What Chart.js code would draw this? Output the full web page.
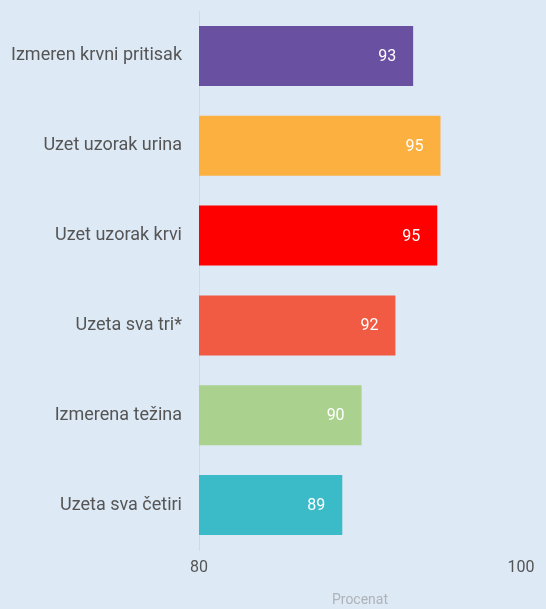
<!DOCTYPE html>
<html>
<head>
<meta charset="utf-8">
<script src="https://cdn.jsdelivr.net/npm/chart.js@4"></script>
<style>
html,body{margin:0;padding:0;background:#dde9f5;}
#wrap{width:546px;height:609px;}
</style>
</head>
<body>
<div id="wrap"><canvas id="c" width="546" height="609"></canvas></div>
<script>
const categories = ["Izmeren krvni pritisak","Uzet uzorak urina","Uzet uzorak krvi","Uzeta sva tri*","Izmerena težina","Uzeta sva četiri"];
const values = [93.3, 95.0, 94.8, 92.2, 90.1, 88.9];
const barColors = ["#6950a1","#fbb040","#ff0000","#f15b43","#abd18e","#3bbbc8"];
const xTicks = [80, 100];
const axisTitle = "Procenat";

const FONT = "Roboto, 'Liberation Sans', sans-serif";

const labelPlugin = {
  id: 'barLabels',
  afterDatasetsDraw(chart) {
    const ctx = chart.ctx;
    const meta = chart.getDatasetMeta(0);
    ctx.save();
    ctx.fillStyle = '#ffffff';
    ctx.font = '16px ' + FONT;
    ctx.textAlign = 'right';
    ctx.textBaseline = 'middle';
    meta.data.forEach((bar, i) => {
      ctx.fillText(String(Math.round(values[i])), bar.x - 17, bar.y + 1);
    });
    ctx.restore();
  }
};

new Chart(document.getElementById('c'), {
  type: 'bar',
  data: {
    labels: categories,
    datasets: [{
      data: values,
      backgroundColor: barColors,
      borderWidth: 0,
      categoryPercentage: 1,
      barPercentage: 0.667
    }]
  },
  options: {
    indexAxis: 'y',
    responsive: false,
    animation: false,
    devicePixelRatio: 1,
    layout: { padding: { top: 11, right: 25, bottom: 0, left: 0 } },
    plugins: { legend: { display: false }, tooltip: { enabled: false } },
    scales: {
      x: {
        min: 80, max: 100,
        afterBuildTicks: (s) => { s.ticks = xTicks.map(v => ({ value: v })); },
        afterFit: (s) => { s.height = 59; s.paddingLeft = 0; s.paddingRight = 0; },
        grid: { display: false, drawTicks: false },
        border: { display: false },
        ticks: { color: '#555555', font: { family: FONT, size: 16 }, padding: 8 },
        title: { display: true, text: axisTitle, color: '#aeb3b8', font: { family: FONT, size: 14 }, padding: { top: 10, bottom: 0 } }
      },
      y: {
        afterFit: (s) => { s.width = 199; s.paddingTop = 0; s.paddingBottom = 0; },
        grid: { display: false, drawTicks: false },
        border: { display: true, color: '#d3d9df', width: 1 },
        ticks: { color: '#555555', font: { family: FONT, size: 18 }, padding: 17 }
      }
    }
  },
  plugins: [labelPlugin]
});
</script>
</body>
</html>
